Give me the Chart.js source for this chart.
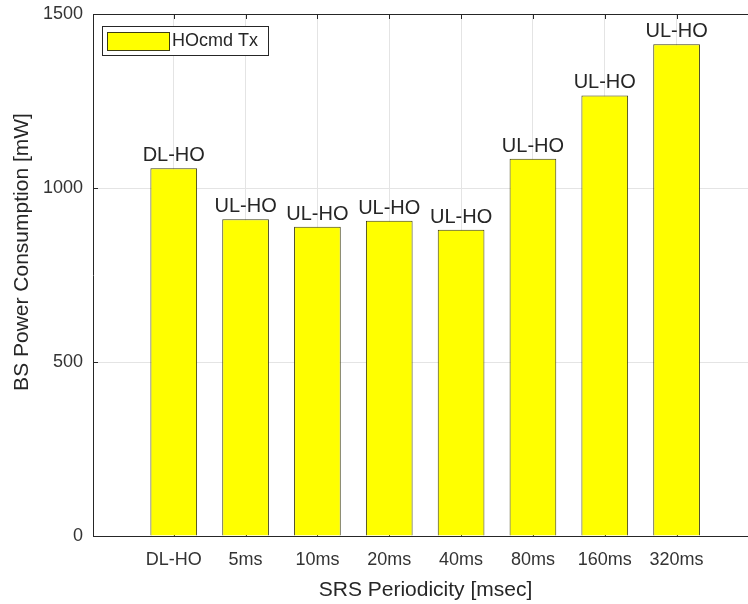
<!DOCTYPE html>
<html>
<head>
<meta charset="utf-8">
<script src="https://cdn.jsdelivr.net/npm/chart.js@4/dist/chart.umd.min.js"></script>
<style>
  html, body { margin: 0; padding: 0; background: #ffffff; }
  #wrap { width: 748px; height: 604px; }
</style>
</head>
<body>
<div id="wrap"><canvas id="c" width="748" height="604"></canvas></div>
<script>
// SRS periodicity settings and the BS power spent on HO command transmission
const categories = ['DL-HO', '5ms', '10ms', '20ms', '40ms', '80ms', '160ms', '320ms'];
const powerMw = [1057, 910, 889, 906, 880, 1084, 1266, 1413];
const hoMode = ['DL-HO', 'UL-HO', 'UL-HO', 'UL-HO', 'UL-HO', 'UL-HO', 'UL-HO', 'UL-HO'];
const yTickValues = [0, 500, 1000, 1500];
const seriesName = 'HOcmd Tx';
const xTitle = 'SRS Periodicity [msec]';
const yTitle = 'BS Power Consumption [mW]';

const FONT = '"Liberation Sans", Arial, Helvetica, sans-serif';
const INK = '#262626';
const GRID = '#e4e4e4';
const BAR_FILL = '#ffff00';
const BAR_EDGE = '#3d3d10';

// axis frame (top line) and inward tick marks, drawn beneath the bars
const framePlugin = {
  id: 'frame',
  beforeDatasetsDraw(chart) {
    const { ctx, chartArea: a, scales } = chart;
    ctx.save();
    ctx.strokeStyle = INK;
    ctx.lineWidth = 1;
    ctx.beginPath();
    ctx.moveTo(a.left, a.top + 0.5);
    ctx.lineTo(a.right + 2, a.top + 0.5);
    const tl = 5;
    scales.x.ticks.forEach(t => {
      const px = Math.round(scales.x.getPixelForValue(t.value)) + 0.5;
      ctx.moveTo(px, a.top); ctx.lineTo(px, a.top + tl);
      ctx.moveTo(px, a.bottom); ctx.lineTo(px, a.bottom - tl);
    });
    scales.y.ticks.forEach(t => {
      const py = Math.round(scales.y.getPixelForValue(t.value)) + 0.5;
      ctx.moveTo(a.left, py); ctx.lineTo(a.left + tl, py);
    });
    ctx.stroke();
    ctx.restore();
  }
};

// mode labels above each bar, placed from the bar elements
const barLabelPlugin = {
  id: 'barLabels',
  afterDatasetsDraw(chart) {
    const { ctx } = chart;
    const meta = chart.getDatasetMeta(0);
    ctx.save();
    ctx.font = '20px ' + FONT;
    ctx.fillStyle = INK;
    ctx.textAlign = 'center';
    ctx.textBaseline = 'alphabetic';
    meta.data.forEach((bar, i) => {
      ctx.fillText(hoMode[i], bar.x, bar.y - 7);
    });
    ctx.restore();
  }
};

// boxed legend in the upper-left corner of the axes
const boxLegendPlugin = {
  id: 'boxLegend',
  afterDraw(chart) {
    const { ctx, chartArea: a } = chart;
    const ds = chart.data.datasets[0];
    const bx = a.left + 9, by = a.top + 12, bw = 166, bh = 29;
    ctx.save();
    ctx.fillStyle = '#ffffff';
    ctx.fillRect(bx, by, bw, bh);
    ctx.strokeStyle = INK;
    ctx.lineWidth = 1;
    ctx.strokeRect(bx + 0.5, by + 0.5, bw, bh);
    ctx.fillStyle = ds.backgroundColor;
    ctx.fillRect(bx + 5, by + 6, 62, 18);
    ctx.strokeStyle = ds.borderColor;
    ctx.strokeRect(bx + 5.5, by + 6.5, 62, 18);
    ctx.fillStyle = INK;
    ctx.font = '18px ' + FONT;
    ctx.textAlign = 'left';
    ctx.textBaseline = 'middle';
    ctx.fillText(ds.label, bx + 70, by + bh / 2 + 1);
    ctx.restore();
  }
};

// axis titles
const axisTitlePlugin = {
  id: 'axisTitles',
  afterDraw(chart) {
    const { ctx, chartArea: a } = chart;
    ctx.save();
    ctx.fillStyle = INK;
    ctx.font = '21px ' + FONT;
    ctx.textAlign = 'center';
    ctx.textBaseline = 'alphabetic';
    ctx.fillText(xTitle, (a.left + a.right) / 2 + 5, 596);
    ctx.translate(28, (a.top + a.bottom) / 2 - 23);
    ctx.rotate(-Math.PI / 2);
    ctx.fillText(yTitle, 0, 0);
    ctx.restore();
  }
};

new Chart(document.getElementById('c'), {
  type: 'bar',
  data: {
    datasets: [{
      label: seriesName,
      data: powerMw.map((v, i) => ({ x: i + 1, y: v })),
      backgroundColor: BAR_FILL,
      borderColor: BAR_EDGE,
      borderWidth: 1,
      barPercentage: 0.65,
      categoryPercentage: 1.0
    }]
  },
  options: {
    responsive: false,
    animation: false,
    devicePixelRatio: 1,
    layout: { padding: { top: 14, left: 0, right: 0, bottom: 0 } },
    plugins: {
      legend: { display: false },
      title: { display: false },
      tooltip: { enabled: false }
    },
    scales: {
      x: {
        type: 'linear',
        offset: false,
        min: -0.124,
        max: 8.994,
        afterBuildTicks(scale) {
          scale.ticks = categories.map((_, i) => ({ value: i + 1 }));
        },
        afterFit(scale) {
          scale.height = 68;
          scale.paddingLeft = 0;
          scale.paddingRight = 0;
        },
        ticks: {
          autoSkip: false,
          maxRotation: 0,
          padding: 13,
          color: '#333333',
          font: { family: FONT, size: 18 },
          callback: (v) => categories[Math.round(v) - 1]
        },
        grid: { color: GRID, drawTicks: false, offset: false },
        border: { color: INK, width: 1 }
      },
      y: {
        min: 0,
        max: 1500,
        afterBuildTicks(scale) {
          scale.ticks = yTickValues.map(v => ({ value: v }));
        },
        afterFit(scale) {
          scale.width = 93;
          scale.paddingTop = 0;
          scale.paddingBottom = 0;
        },
        ticks: {
          padding: 10,
          color: '#333333',
          font: { family: FONT, size: 18 },
          callback: (v) => String(v)
        },
        grid: { color: GRID, drawTicks: false },
        border: { color: INK, width: 1 }
      }
    }
  },
  plugins: [framePlugin, barLabelPlugin, boxLegendPlugin, axisTitlePlugin]
});
</script>
</body>
</html>
